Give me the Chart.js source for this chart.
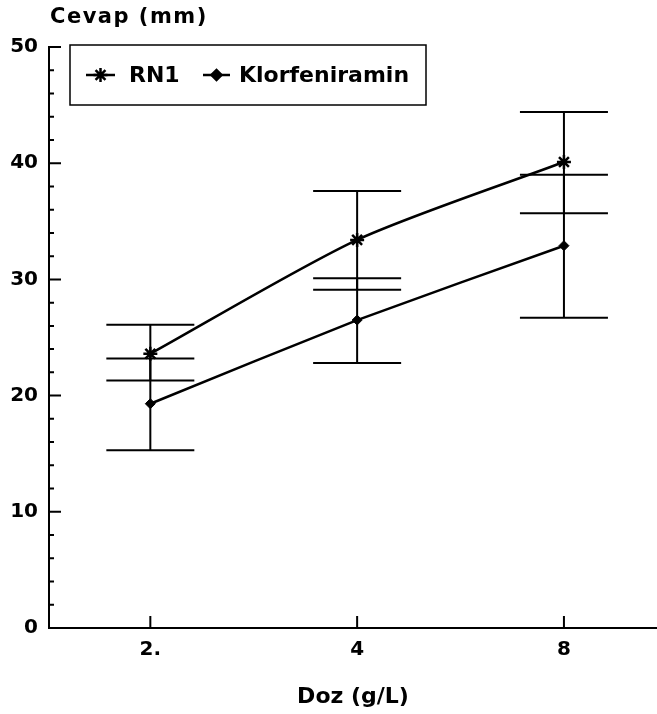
<!DOCTYPE html>
<html>
<head>
<meta charset="utf-8">
<script src="https://cdn.jsdelivr.net/npm/chart.js@4.4.0/dist/chart.umd.min.js"></script>
<style>
  body { margin: 0; background: #fff; }
  canvas { display: block; }
</style>
</head>
<body>
<canvas id="doseChart" width="657" height="714"></canvas>
<script>
// values
const doseLabels = ['2.', '4', '8'];
const rn1Values = [23.6, 33.4, 40.1];
const rn1High = [26.1, 37.6, 44.4];
const rn1Low = [21.3, 29.1, 35.7];
const klorValues = [19.3, 26.5, 32.9];
const klorHigh = [23.2, 30.1, 39.0];
const klorLow = [15.3, 22.8, 26.7];

const textFont = '"DejaVu Sans", sans-serif';

function toPoints(values) {
  return values.map(function (v, i) { return { x: i, y: v }; });
}

// error bars with wide caps
const errorBars = {
  id: 'errorBars',
  beforeDatasetsDraw: function (chart) {
    const ctx = chart.ctx;
    const xs = chart.scales.x, ys = chart.scales.y;
    ctx.save();
    ctx.strokeStyle = '#000';
    ctx.lineWidth = 2;
    chart.data.datasets.forEach(function (ds) {
      ds.errHigh.forEach(function (hi, i) {
        const x = xs.getPixelForValue(i);
        const yHi = ys.getPixelForValue(hi);
        const yLo = ys.getPixelForValue(ds.errLow[i]);
        ctx.beginPath();
        ctx.moveTo(x, yHi); ctx.lineTo(x, yLo);
        ctx.moveTo(x - 44, yHi); ctx.lineTo(x + 44, yHi);
        ctx.moveTo(x - 44, yLo); ctx.lineTo(x + 44, yLo);
        ctx.stroke();
      });
    });
    ctx.restore();
  }
};

// inward tick marks, title and boxed legend
const decorations = {
  id: 'decorations',
  afterDraw: function (chart) {
    const ctx = chart.ctx;
    const xs = chart.scales.x, ys = chart.scales.y;
    const area = chart.chartArea;
    ctx.save();
    ctx.strokeStyle = '#000';
    ctx.lineWidth = 2;
    ctx.beginPath();
    for (let v = 0; v <= 50; v += 2) {
      const y = ys.getPixelForValue(v);
      const len = v % 10 === 0 ? 12 : 5;
      ctx.moveTo(area.left, y); ctx.lineTo(area.left + len, y);
    }
    doseLabels.forEach(function (l, i) {
      const x = xs.getPixelForValue(i);
      ctx.moveTo(x, area.bottom); ctx.lineTo(x, area.bottom - 12);
    });
    ctx.stroke();

    ctx.fillStyle = '#000';
    ctx.textBaseline = 'middle';
    ctx.textAlign = 'left';
    ctx.font = 'bold 21px ' + textFont;
    ctx.letterSpacing = '1.5px';
    ctx.fillText('Cevap (mm)', 50, 18);
    ctx.letterSpacing = '0px';

    // legend
    ctx.lineWidth = 1.5;
    ctx.strokeRect(70, 45, 356, 60);
    const ly = 75;
    ctx.font = 'bold 22px ' + textFont;
    const items = [
      { ds: chart.data.datasets[0], x0: 86, x1: 115, text: 129 },
      { ds: chart.data.datasets[1], x0: 203, x1: 230, text: 239 }
    ];
    items.forEach(function (it) {
      ctx.lineWidth = 2.5;
      ctx.beginPath();
      ctx.moveTo(it.x0, ly); ctx.lineTo(it.x1, ly);
      ctx.stroke();
      Chart.helpers.drawPoint(ctx, {
        pointStyle: it.ds.pointStyle,
        radius: it.ds.pointRadius,
        borderWidth: it.ds.pointBorderWidth,
        rotation: 0
      }, (it.x0 + it.x1) / 2, ly);
      ctx.fillText(it.ds.label, it.text, ly + 1);
    });
    ctx.restore();
  }
};

new Chart(document.getElementById('doseChart'), {
  type: 'line',
  data: {
    datasets: [
      {
        label: 'RN1',
        data: toPoints(rn1Values),
        errHigh: rn1High,
        errLow: rn1Low,
        borderColor: '#000',
        borderWidth: 2.5,
        pointStyle: 'star',
        pointRadius: 7,
        pointBorderWidth: 2.5,
        pointBackgroundColor: '#000',
        pointBorderColor: '#000',
        tension: 0.25,
        fill: false
      },
      {
        label: 'Klorfeniramin',
        data: toPoints(klorValues),
        errHigh: klorHigh,
        errLow: klorLow,
        borderColor: '#000',
        borderWidth: 2.5,
        pointStyle: 'rectRot',
        pointRadius: 5,
        pointBorderWidth: 1,
        pointBackgroundColor: '#000',
        pointBorderColor: '#000',
        tension: 0.15,
        fill: false
      }
    ]
  },
  options: {
    responsive: false,
    animation: false,
    layout: { autoPadding: false, padding: { top: 47, right: 0, left: 0, bottom: 0 } },
    plugins: {
      legend: { display: false },
      tooltip: { enabled: false }
    },
    scales: {
      x: {
        type: 'linear',
        min: -0.49,
        max: 2.45,
        afterBuildTicks: function (scale) {
          scale.ticks = doseLabels.map(function (l, i) { return { value: i }; });
        },
        afterFit: function (scale) {
          scale.height = 86;
          scale.paddingLeft = 0;
          scale.paddingRight = 0;
        },
        grid: { display: false, drawTicks: false },
        border: { display: true, color: '#000', width: 2 },
        ticks: {
          color: '#000',
          padding: 10,
          font: { family: textFont, size: 20, weight: 'bold' },
          callback: function (v) { return doseLabels[v]; }
        },
        title: {
          display: true,
          text: 'Doz (g/L)',
          color: '#000',
          padding: { top: 17 },
          font: { family: textFont, size: 22, weight: 'bold' }
        }
      },
      y: {
        min: 0,
        max: 50,
        afterFit: function (scale) { scale.width = 49; },
        grid: { display: false, drawTicks: false },
        border: { display: true, color: '#000', width: 2 },
        ticks: {
          stepSize: 10,
          color: '#000',
          padding: 11,
          font: { family: textFont, size: 20, weight: 'bold' }
        }
      }
    }
  },
  plugins: [errorBars, decorations]
});
</script>
</body>
</html>
